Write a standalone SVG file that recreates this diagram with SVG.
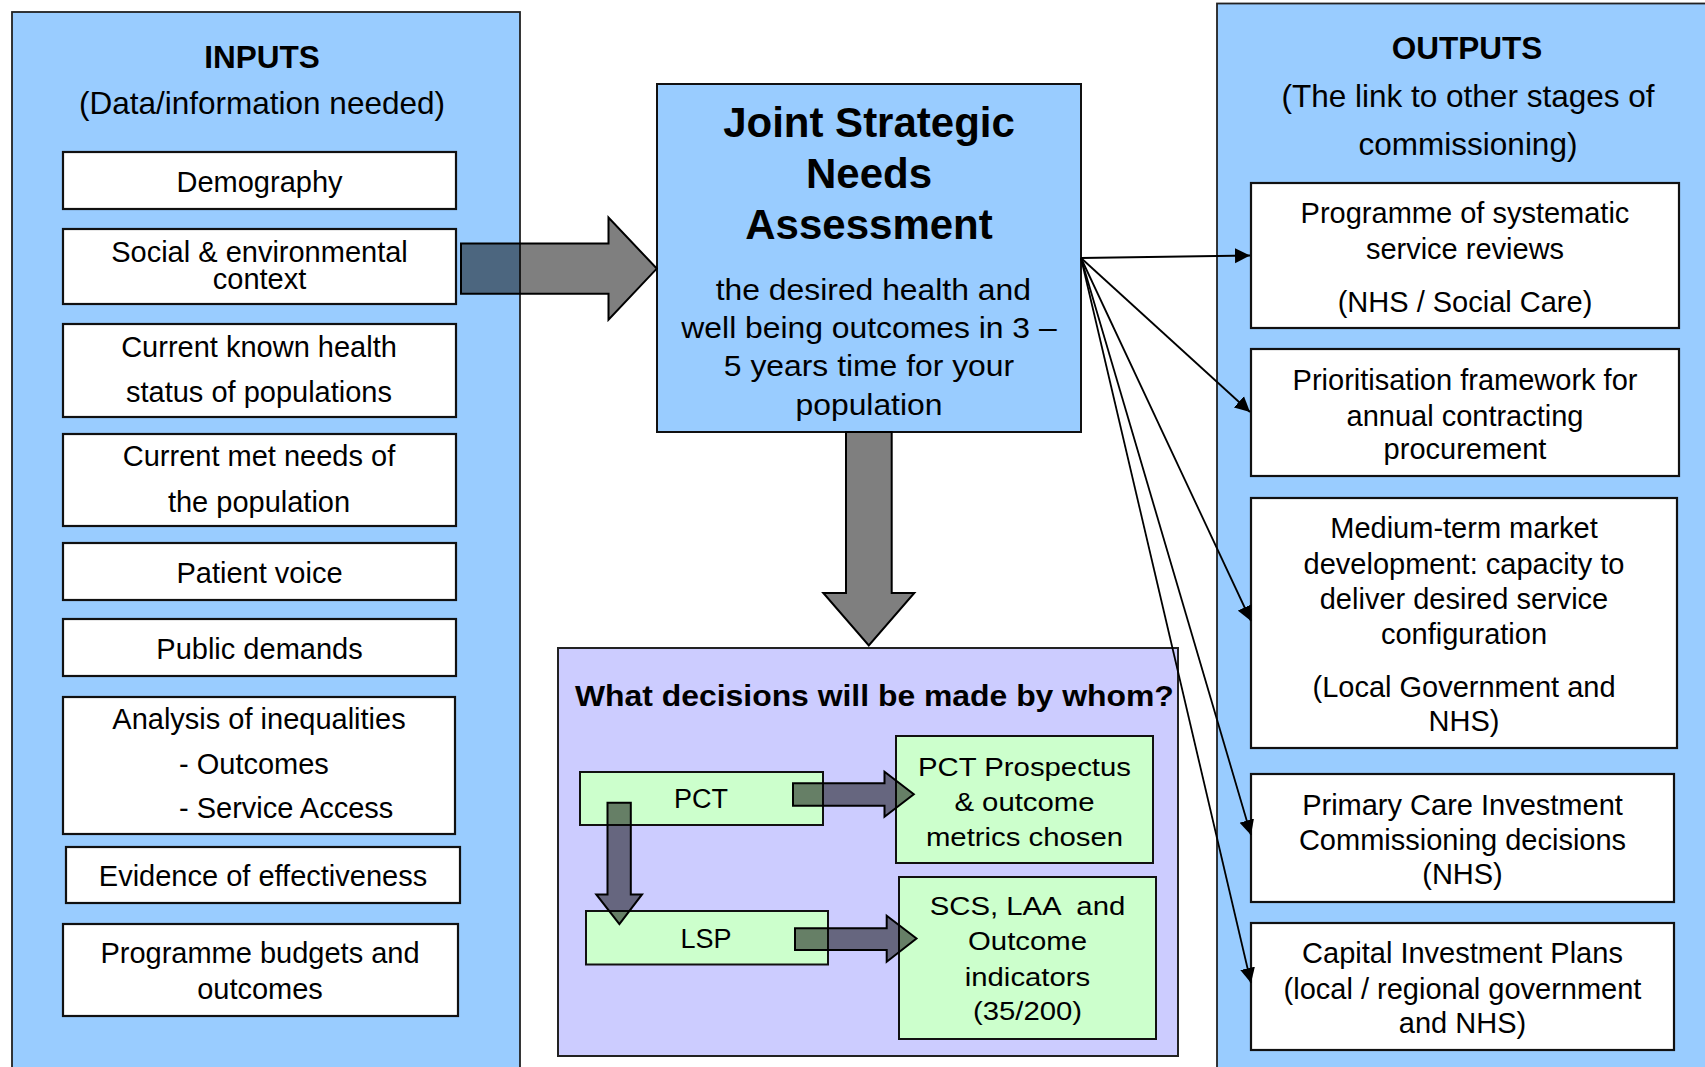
<svg xmlns="http://www.w3.org/2000/svg" width="1705" height="1067" viewBox="0 0 1705 1067">
  <defs>
    <style>
      text { font-family: "Liberation Sans", Arial, Helvetica, sans-serif; fill: #000; }
      .panel { fill: #99CCFF; stroke: #222; stroke-width: 1.8; }
      .box { fill: #fff; stroke: #111; stroke-width: 2.2; }
      .lav { fill: #CCCCFF; stroke: #222; stroke-width: 2; }
      .green { fill: #CCFFCC; stroke: #111; stroke-width: 2; }
      .block { fill: #000; fill-opacity: 0.5; stroke: #000; stroke-width: 2; stroke-linejoin: miter; }
      .link { fill: none; stroke: #000; stroke-width: 1.8; marker-end: url(#ah); }
      .hd { font-size: 31.5px; text-anchor: middle; }
      .t29 { font-size: 29px; text-anchor: middle; }
      .b { font-weight: bold; }
    </style>
    <marker id="ah" markerUnits="userSpaceOnUse" markerWidth="16" markerHeight="16" viewBox="0 0 16 16" refX="15" refY="8" orient="auto">
      <path d="M0,0.5 L15,8 L0,15.5 Z" fill="#000"/>
    </marker>
  </defs>

  <rect x="0" y="0" width="1705" height="1067" fill="#fff"/>

  <!-- INPUTS column -->
  <g id="inputs">
    <rect class="panel" x="12" y="12" width="508" height="1080"/>
    <text class="hd b" x="262" y="68">INPUTS</text>
    <text class="hd" x="262" y="114">(Data/information needed)</text>
  </g>

  <g id="in-demography">
    <rect class="box" x="63" y="152" width="393" height="57"/>
    <text class="t29" x="259.5" y="191.5">Demography</text>
  </g>
  <g id="in-social">
    <rect class="box" x="63" y="229" width="393" height="75"/>
    <text class="t29" x="259.5" y="262">Social &amp; environmental</text>
    <text class="t29" x="259.5" y="289">context</text>
  </g>
  <g id="in-health-status">
    <rect class="box" x="63" y="324" width="393" height="93"/>
    <text class="t29" x="259" y="357">Current known health</text>
    <text class="t29" x="259" y="402">status of populations</text>
  </g>
  <g id="in-met-needs">
    <rect class="box" x="63" y="434" width="393" height="92"/>
    <text class="t29" x="259" y="466">Current met needs of</text>
    <text class="t29" x="259" y="512">the population</text>
  </g>
  <g id="in-patient-voice">
    <rect class="box" x="63" y="543" width="393" height="57"/>
    <text class="t29" x="259.5" y="583">Patient voice</text>
  </g>
  <g id="in-public-demands">
    <rect class="box" x="63" y="619" width="393" height="57"/>
    <text class="t29" x="259.5" y="658.5">Public demands</text>
  </g>
  <g id="in-inequalities">
    <rect class="box" x="63" y="697" width="392" height="137"/>
    <text class="t29" x="259" y="728.5">Analysis of inequalities</text>
    <text style="font-size:29px" x="179" y="773.5">- Outcomes</text>
    <text style="font-size:29px" x="179" y="818">- Service Access</text>
  </g>
  <g id="in-evidence">
    <rect class="box" x="66" y="847" width="394" height="56"/>
    <text class="t29" x="263" y="885.5">Evidence of effectiveness</text>
  </g>
  <g id="in-budgets">
    <rect class="box" x="63" y="924" width="395" height="92"/>
    <text class="t29" x="260" y="962.5">Programme budgets and</text>
    <text class="t29" x="260" y="999">outcomes</text>
  </g>

  <!-- OUTPUTS column -->
  <g id="outputs">
    <rect class="panel" x="1217" y="3.5" width="500" height="1090"/>
    <text class="hd b" x="1467" y="59">OUTPUTS</text>
    <text class="hd" x="1468" y="107">(The link to other stages of</text>
    <text class="hd" x="1468" y="155">commissioning)</text>
  </g>

  <g id="out-reviews">
    <rect class="box" x="1251" y="183" width="428" height="145"/>
    <text class="t29" x="1465" y="222.5">Programme of systematic</text>
    <text class="t29" x="1465" y="258.5">service reviews</text>
    <text class="t29" x="1465" y="311.5">(NHS / Social Care)</text>
  </g>
  <g id="out-prioritisation">
    <rect class="box" x="1251" y="349" width="428" height="127"/>
    <text class="t29" x="1465" y="390">Prioritisation framework for</text>
    <text class="t29" x="1465" y="425.5">annual contracting</text>
    <text class="t29" x="1465" y="459">procurement</text>
  </g>
  <g id="out-market">
    <rect class="box" x="1251" y="498" width="426" height="250"/>
    <text class="t29" x="1464" y="538">Medium-term market</text>
    <text class="t29" x="1464" y="573.5">development: capacity to</text>
    <text class="t29" x="1464" y="609">deliver desired service</text>
    <text class="t29" x="1464" y="643.5">configuration</text>
    <text class="t29" x="1464" y="697">(Local Government and</text>
    <text class="t29" x="1464" y="731">NHS)</text>
  </g>
  <g id="out-primary-care">
    <rect class="box" x="1251" y="774" width="423" height="128"/>
    <text class="t29" x="1462.5" y="814.5">Primary Care Investment</text>
    <text class="t29" x="1462.5" y="850">Commissioning decisions</text>
    <text class="t29" x="1462.5" y="884">(NHS)</text>
  </g>
  <g id="out-capital">
    <rect class="box" x="1251" y="923" width="423" height="127"/>
    <text class="t29" x="1462.5" y="963">Capital Investment Plans</text>
    <text class="t29" x="1462.5" y="998.5">(local / regional government</text>
    <text class="t29" x="1462.5" y="1033">and NHS)</text>
  </g>

  <!-- Central assessment box -->
  <g id="jsna">
    <rect class="panel" x="657" y="84" width="424" height="348" style="stroke:#111;stroke-width:2"/>
    <text class="b" style="font-size:42px;text-anchor:middle" x="869" y="137">Joint Strategic</text>
    <text class="b" style="font-size:42px;text-anchor:middle" x="869" y="187.8">Needs</text>
    <text class="b" style="font-size:42px;text-anchor:middle" x="869" y="239.3">Assessment</text>
    <g transform="matrix(1.08 0 0 1 -69.52 0)" style="font-size:29.5px;text-anchor:middle">
      <text x="873" y="300">the desired health and</text>
      <text x="869" y="338">well being outcomes in 3 –</text>
      <text x="869" y="376.5">5 years time for your</text>
      <text x="869" y="415">population</text>
    </g>
  </g>

  <!-- Decisions panel -->
  <g id="decisions">
    <rect class="lav" x="558" y="648" width="620" height="408"/>
    <text class="b" style="font-size:29px" transform="matrix(1.1 0 0 1 -57.5 0)" x="575" y="706.5">What decisions will be made by whom?</text>
  </g>
  <g id="pct">
    <rect class="green" x="580" y="772" width="243" height="53"/>
    <text style="font-size:27px;text-anchor:middle" x="701" y="808">PCT</text>
  </g>
  <g id="lsp">
    <rect class="green" x="586" y="911" width="242" height="53.5"/>
    <text style="font-size:27px;text-anchor:middle" x="706" y="948">LSP</text>
  </g>
  <g id="pct-prospectus">
    <rect class="green" x="896" y="736" width="257" height="127"/>
    <g transform="matrix(1.15 0 0 1 -153.675 0)" style="font-size:25.5px;text-anchor:middle">
      <text x="1024.5" y="776">PCT Prospectus</text>
      <text x="1024.5" y="811">&amp; outcome</text>
      <text x="1024.5" y="846">metrics chosen</text>
    </g>
  </g>
  <g id="scs-laa">
    <rect class="green" x="899" y="877" width="257" height="162"/>
    <g transform="matrix(1.15 0 0 1 -154.125 0)" style="font-size:25.5px;text-anchor:middle">
      <text x="1027.5" y="915" xml:space="preserve" style="white-space:pre">SCS, LAA  and</text>
      <text x="1027.5" y="950">Outcome</text>
      <text x="1027.5" y="986">indicators</text>
      <text x="1027.5" y="1020.5">(35/200)</text>
    </g>
  </g>

  <!-- Connectors -->
  <g id="connectors">
    <!-- block arrows -->
    <polygon class="block" points="461,243.5 608.5,243.5 608.5,217.5 656.8,268.6 608.5,319.7 608.5,293.7 461,293.7"/>
    <polygon class="block" points="846,432 891.7,432 891.7,593 914.3,593 868.8,645.5 823.3,593 846,593"/>
    <polygon class="block" points="793,783.3 884.5,783.3 884.5,771.7 913.8,794.3 884.5,816.7 884.5,805.8 793,805.8"/>
    <polygon class="block" points="795,928.3 886.7,928.3 886.7,915.7 916.5,938.5 886.7,961.7 886.7,950 795,950"/>
    <polygon class="block" points="607.5,802.7 630.8,802.7 630.8,894.4 642,894.4 619.4,924 596.3,894.4 607.5,894.4"/>
    <!-- fan of links to outputs -->
    <path class="link" d="M1081,258 L1250,255.5"/>
    <path class="link" d="M1081,258 L1250,412"/>
    <path class="link" d="M1081,258 L1251,621"/>
    <path class="link" d="M1081,258 L1251,835"/>
    <path class="link" d="M1081,258 L1251,983"/>
  </g>
</svg>
